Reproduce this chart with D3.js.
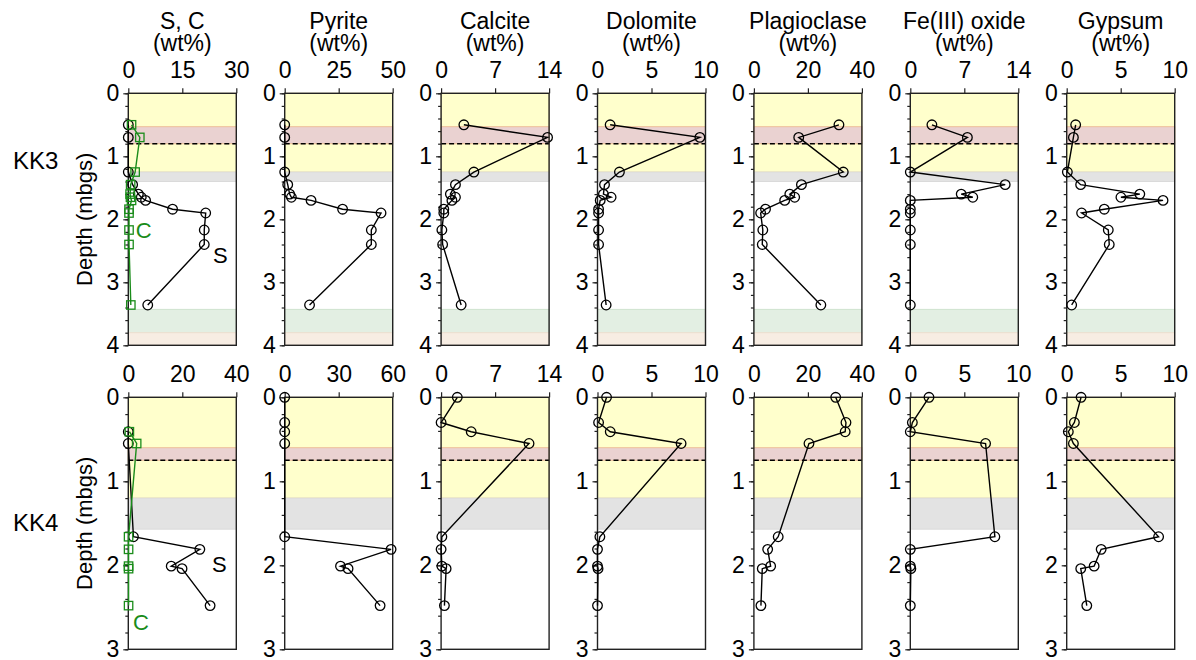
<!DOCTYPE html>
<html>
<head>
<meta charset="utf-8">
<script src="https://cdn.jsdelivr.net/npm/d3@7"></script>
<style>
body { margin: 0; background: #fff; }
svg { font-family: "Liberation Sans", Arial, sans-serif; }
</style>
</head>
<body>
<svg width="1196" height="660"></svg>
<script>
var svg = d3.select("svg");

// panel titles (top row only)
var titles = ["S, C", "Pyrite", "Calcite", "Dolomite", "Plagioclase", "Fe(III) oxide", "Gypsum"];

// ---- KK3 ----
var kk3Max = [30, 50, 14, 10, 40, 14, 10];
var kk3Ticks = [[0, 15, 30], [0, 25, 50], [0, 7, 14], [0, 5, 10], [0, 20, 40], [0, 7, 14], [0, 5, 10]];
var kk3Depth = [0.5, 0.7, 1.25, 1.45, 1.6, 1.65, 1.7, 1.84, 1.9, 2.17, 2.4, 3.36];
var kk3S = [0, 0, 0, 1.2, 2.8, 3.6, 4.8, 12.3, 21.5, 21.1, 21.1, 5.4];
var kk3C = [0.9, 3.2, 1.9, 0.65, 0.5, 0.6, 0.9, 0.2, 0.2, 0.2, 0.2, 0.7];
var kk3Pyrite = [0, 0, 0, 1.4, 2.3, 3.1, 12.2, 26.8, 44.6, 40.1, 40.1, 11.5];
var kk3Calcite = [2.95, 13.8, 4.25, 1.86, 1.2, 1.86, 1.4, 0.35, 0.35, 0.1, 0.2, 2.6];
var kk3Dolomite = [1.17, 9.48, 2.03, 0.65, 0.55, 1.26, 0.25, 0.1, 0.1, 0.1, 0.1, 0.8];
var kk3Plagioclase = [31.5, 16.6, 33.1, 17.6, 13.3, 15.1, 11.4, 4.3, 2.5, 3.3, 3.1, 24.8];
var kk3FeOxide = [2.8, 7.4, 0, 12.3, 6.6, 8.1, 0, 0, 0, 0, 0, 0];
var kk3Gypsum = [0.83, 0.62, 0.06, 1.29, 6.77, 5.02, 8.92, 3.48, 1.38, 3.85, 3.94, 0.46];
// depth intervals [top, bottom, kind]
var kk3Bands = [[0, 1.25, "yellow"], [0.53, 0.8, "pink"], [1.25, 1.4, "grey"], [3.43, 3.8, "green"], [3.8, 4, "beige"]];

// ---- KK4 ----
var kk4Max = [40, 60, 14, 10, 40, 10, 10];
var kk4Ticks = [[0, 20, 40], [0, 30, 60], [0, 7, 14], [0, 5, 10], [0, 20, 40], [0, 5, 10], [0, 5, 10]];
var kk4Depth = [0, 0.3, 0.41, 0.55, 1.66, 1.81, 2.01, 2.04, 2.48];
var kk4ScDepth = [0.41, 0.55, 1.66, 1.81, 2.01, 2.04, 2.48];
var kk4S = [0, 0, 1.9, 26.5, 15.9, 19.9, 30.3];
var kk4C = [0.4, 3.1, 0.1, 0.1, 0.1, 0.1, 0.1];
var kk4Pyrite = [0, 0, 0, 0, 0, 59.1, 31.0, 35.2, 53.0];
var kk4Calcite = [2.1, 0, 3.9, 11.4, 0.1, 0, 0.1, 0.65, 0.43];
var kk4Dolomite = [0.84, 0.1, 1.18, 7.74, 0.22, 0, 0, 0.05, 0];
var kk4Plagioclase = [30.3, 34.1, 33.8, 20.4, 9.0, 5.1, 6.2, 3.1, 2.6];
var kk4FeOxide = [1.73, 0.19, 0, 6.97, 7.83, 0, 0, 0.05, 0];
var kk4Gypsum = [1.33, 0.71, 0.15, 0.62, 8.51, 3.19, 2.54, 1.3, 1.86];
var kk4Bands = [[0, 1.2, "yellow"], [0.6, 0.75, "pink"], [1.2, 1.57, "grey"]];

var bandFill = { yellow: "#ffffcc", pink: "#ead2d1", grey: "#e3e3e3", green: "#e3efe3", beige: "#f7ede3" };
var bandEdge = { yellow: "#f2e3a6", pink: "#eebf9a", grey: "#dadada", green: "#cfe3cf", beige: "#eedfd0" };

var layout = {
    left: 128.3,
    step: 156.4,
    width: 108,
    height: 252
};

var rows = [
    {
        name: "KK3", top: 93.3, maxDepth: 4, dashed: 0.8,
        xMax: kk3Max, xTicks: kk3Ticks, bands: kk3Bands,
        depth: kk3Depth, scDepth: kk3Depth, S: kk3S, C: kk3C,
        minerals: [kk3Pyrite, kk3Calcite, kk3Dolomite, kk3Plagioclase, kk3FeOxide, kk3Gypsum],
        sLabel: [23.5, 2.70], cLabel: [2.1, 2.30]
    },
    {
        name: "KK4", top: 397.3, maxDepth: 3, dashed: 0.75,
        xMax: kk4Max, xTicks: kk4Ticks, bands: kk4Bands,
        depth: kk4Depth, scDepth: kk4ScDepth, S: kk4S, C: kk4C,
        minerals: [kk4Pyrite, kk4Calcite, kk4Dolomite, kk4Plagioclase, kk4FeOxide, kk4Gypsum],
        sLabel: [31, 2.08], cLabel: [1.7, 2.77]
    }
];

function drawSeries(g, x, y, depths, values, color, shape) {
    var pts = depths.map(function (d, i) { return [values[i], d]; });
    g.append("path")
        .datum(pts)
        .attr("fill", "none")
        .attr("stroke", color)
        .attr("stroke-width", 1.4)
        .attr("d", d3.line().x(function (d) { return x(d[0]); }).y(function (d) { return y(d[1]); }));
    if (shape == "circle") {
        g.selectAll(null).data(pts).enter().append("circle")
            .attr("cx", function (d) { return x(d[0]); })
            .attr("cy", function (d) { return y(d[1]); })
            .attr("r", 4.8)
            .attr("fill", "none")
            .attr("stroke", color)
            .attr("stroke-width", 1.3);
    } else {
        g.selectAll(null).data(pts).enter().append("rect")
            .attr("x", function (d) { return x(d[0]) - 4.2; })
            .attr("y", function (d) { return y(d[1]) - 4.2; })
            .attr("width", 8.4)
            .attr("height", 8.4)
            .attr("fill", "none")
            .attr("stroke", color)
            .attr("stroke-width", 1.3);
    }
}

rows.forEach(function (row, r) {
    var y = d3.scaleLinear().domain([0, row.maxDepth]).range([0, layout.height]);

    for (var i = 0; i < 7; i++) {
        var g = svg.append("g")
            .attr("transform", "translate(" + (layout.left + i * layout.step) + "," + row.top + ")");
        var x = d3.scaleLinear().domain([0, row.xMax[i]]).range([0, layout.width]);

        // shaded depth intervals
        g.selectAll(null).data(row.bands).enter().append("rect")
            .attr("x", 0)
            .attr("width", layout.width)
            .attr("y", function (d) { return y(d[0]); })
            .attr("height", function (d) { return y(d[1]) - y(d[0]); })
            .attr("fill", function (d) { return bandFill[d[2]]; })
            .attr("stroke", function (d) { return bandEdge[d[2]]; })
            .attr("stroke-width", 1);

        g.append("line")
            .attr("x1", 0).attr("x2", layout.width)
            .attr("y1", y(row.dashed)).attr("y2", y(row.dashed))
            .attr("stroke", "#000")
            .attr("stroke-width", 1.4)
            .attr("stroke-dasharray", "5,3");

        // axes
        var top = g.append("g").attr("class", "x axis")
            .call(d3.axisTop(x).tickValues(row.xTicks[i]).tickSize(5).tickPadding(10));
        var left = g.append("g").attr("class", "y axis")
            .call(d3.axisLeft(y).tickValues(d3.range(0, row.maxDepth + 0.01, 1)).tickSize(5).tickPadding(4).tickFormat(d3.format("d")));
        var minor = g.append("g")
            .call(d3.axisLeft(y).tickValues(d3.range(0, row.maxDepth + 0.01, 0.2)).tickSize(3).tickFormat(""));
        [top, left, minor].forEach(function (a) {
            a.select(".domain").remove();
            a.selectAll("line").attr("stroke", "#222").attr("stroke-width", 1.2);
            a.selectAll("text").attr("font-size", 23).attr("fill", "#000").attr("font-family", "Liberation Sans, Arial, sans-serif");
        });

        g.append("rect")
            .attr("width", layout.width)
            .attr("height", layout.height)
            .attr("fill", "none")
            .attr("stroke", "#222")
            .attr("stroke-width", 1.4);

        if (i == 0) {
            drawSeries(g, x, y, row.scDepth, row.S, "#000", "circle");
            drawSeries(g, x, y, row.scDepth, row.C, "#1a8c1a", "square");
            g.append("text")
                .attr("x", x(row.sLabel[0])).attr("y", y(row.sLabel[1]))
                .attr("font-size", 22).attr("fill", "#000")
                .text("S");
            g.append("text")
                .attr("x", x(row.cLabel[0])).attr("y", y(row.cLabel[1]))
                .attr("font-size", 22).attr("fill", "#1a8c1a")
                .text("C");
        } else {
            drawSeries(g, x, y, row.depth, row.minerals[i - 1], "#000", "circle");
        }

        if (r == 0) {
            g.append("text")
                .attr("x", layout.width / 2).attr("y", 29 - row.top)
                .attr("text-anchor", "middle").attr("font-size", 23)
                .text(titles[i]);
            g.append("text")
                .attr("x", layout.width / 2).attr("y", 51 - row.top)
                .attr("text-anchor", "middle").attr("font-size", 23)
                .text("(wt%)");
        }
    }

    // row label and depth axis title
    svg.append("text")
        .attr("x", 13).attr("y", row.top + layout.height * (r == 0 ? 0.3 : 0.53))
        .attr("font-size", 24)
        .text(row.name);
    svg.append("text")
        .attr("transform", "translate(92," + (row.top + layout.height / 2) + ") rotate(-90)")
        .attr("text-anchor", "middle")
        .attr("font-size", 22)
        .text("Depth (mbgs)");
});
</script>
</body>
</html>
